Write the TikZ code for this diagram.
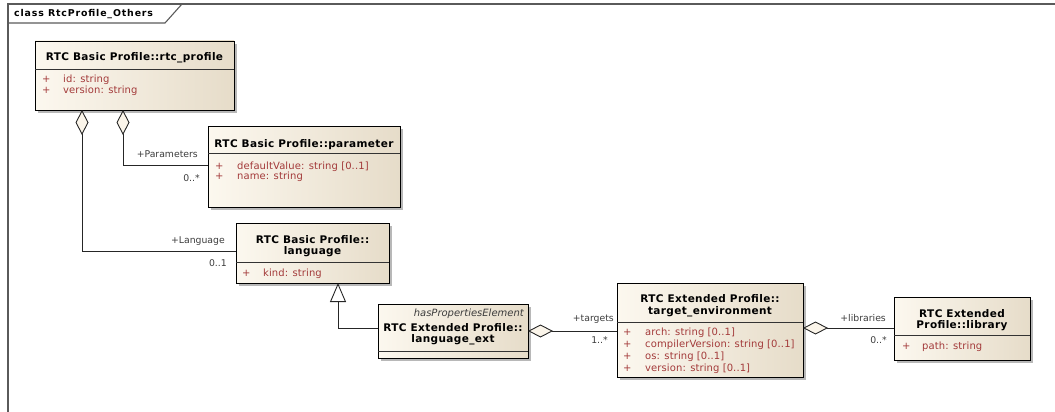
\documentclass[tikz,border=0pt]{standalone}
\usepackage{fontspec}
\setmainfont{DejaVu Sans}
\newfontfamily\headfont{DejaVu Sans}[LetterSpace=3.5]
\newfontfamily\titlefont{DejaVu Sans}[LetterSpace=9]
\newfontfamily\attrfont{DejaVu Sans}[LetterSpace=1]
\usetikzlibrary{arrows.meta,shadows,calc}
\definecolor{boxL}{HTML}{FCF8EF}
\definecolor{boxR}{HTML}{E6DCC9}
\definecolor{attrcol}{HTML}{A33A3A}
\definecolor{lblcol}{HTML}{3C3C3C}
\definecolor{framecol}{HTML}{5A5A5A}
\definecolor{diafill}{HTML}{FBF5EA}
\begin{document}
\begin{tikzpicture}[x=1pt,y=-1pt,
  umlbox/.style={draw=black, line width=0.9pt, left color=boxL, right color=boxR,
    drop shadow={shadow xshift=3pt, shadow yshift=-3pt, opacity=0.28, fill=black},
    anchor=north west, inner sep=0pt, outer sep=0pt},
  divider/.style={draw=black!80, line width=0.9pt},
  head/.style={font={\headfont\bfseries\fontsize{10.5}{11}\selectfont}, inner sep=0pt, anchor=base},
  attr/.style={font={\attrfont\fontsize{10}{11}\selectfont}, text=attrcol, inner sep=0pt, anchor=base west},
  lbl/.style={font={\fontsize{9.3}{11}\selectfont}, text=lblcol, inner sep=0pt, anchor=base east},
  stereo/.style={font={\fontsize{10}{11}\selectfont\itshape}, text=lblcol, inner sep=0pt, anchor=base east},
  conn/.style={draw=black!85, line width=0.9pt},
  agg/.style={conn, {Diamond[length=25pt, width=13pt, fill=diafill, line width=0.9pt]}-},
  gen/.style={conn, -{Triangle[open, length=19pt, width=16pt, line width=0.9pt]}},
]
\useasboundingbox (0,0) rectangle (1055,412);

% diagram frame with its name tab
\draw[framecol, line width=1.3pt] (8,412) -- (8,4) -- (1055,4);
\draw[framecol, line width=1.1pt] (8,23) -- (165,23) -- (182,4);
\node[font={\titlefont\bfseries\fontsize{9.4}{11}\selectfont}, inner sep=0pt, anchor=base west] (title) at (14,17) {class RtcProfile\_Others};

% rtc_profile
\node[umlbox, minimum width=199pt, minimum height=69pt] (rtc) at (35,41) {};
\draw[divider] ($(rtc.north west)+(0,28)$) -- ($(rtc.north east)+(0,28)$);
\node[head] (rtcH) at (134.5,61) {RTC Basic Profile::rtc\_profile};
\node[attr] (rtcP1) at (42,83) {+};
\node[attr] (rtcA1) at (63,83) {id: string};
\node[attr] (rtcP2) at (42,93) {+};
\node[attr] (rtcA2) at (63,93) {version: string};

% parameter
\node[umlbox, minimum width=192pt, minimum height=81pt] (param) at (208,126) {};
\draw[divider] ($(param.north west)+(0,27)$) -- ($(param.north east)+(0,27)$);
\node[head] (paramH) at (304,147) {RTC Basic Profile::parameter};
\node[attr] (paramP1) at (215,169) {+};
\node[attr] (paramA1) at (237,169) {defaultValue: string [0..1]};
\node[attr] (paramP2) at (215,179) {+};
\node[attr] (paramA2) at (237,179) {name: string};

% language
\node[umlbox, minimum width=153pt, minimum height=60pt] (lang) at (236,223) {};
\draw[divider] ($(lang.north west)+(0,39)$) -- ($(lang.north east)+(0,39)$);
\node[head] (langH1) at (312.5,243) {RTC Basic Profile::};
\node[head] (langH2) at (312.5,254) {language};
\node[attr] (langP1) at (242,276) {+};
\node[attr] (langA1) at (263,276) {kind: string};

% language_ext
\node[umlbox, minimum width=150pt, minimum height=54pt] (lext) at (378,304) {};
\draw[divider] ($(lext.north west)+(0,47)$) -- ($(lext.north east)+(0,47)$);
\node[stereo] (lextS) at (524,316) {hasPropertiesElement};
\node[head] (lextH1) at (453,331) {RTC Extended Profile::};
\node[head] (lextH2) at (453,342) {language\_ext};

% target_environment
\node[umlbox, minimum width=186pt, minimum height=94pt] (tenv) at (617,283) {};
\draw[divider] ($(tenv.north west)+(0,39)$) -- ($(tenv.north east)+(0,39)$);
\node[head] (tenvH1) at (710,302) {RTC Extended Profile::};
\node[head] (tenvH2) at (710,314) {target\_environment};
\node[attr] (tenvP1) at (623,335) {+};
\node[attr] (tenvA1) at (645,335) {arch: string [0..1]};
\node[attr] (tenvP2) at (623,347) {+};
\node[attr] (tenvA2) at (645,347) {compilerVersion: string [0..1]};
\node[attr] (tenvP3) at (623,359) {+};
\node[attr] (tenvA3) at (645,359) {os: string [0..1]};
\node[attr] (tenvP4) at (623,371) {+};
\node[attr] (tenvA4) at (645,371) {version: string [0..1]};

% library
\node[umlbox, minimum width=136pt, minimum height=63pt] (lib) at (894,297) {};
\draw[divider] ($(lib.north west)+(0,38)$) -- ($(lib.north east)+(0,38)$);
\node[head] (libH1) at (962,317) {RTC Extended};
\node[head] (libH2) at (962,328) {Profile::library};
\node[attr] (libP1) at (902,349) {+};
\node[attr] (libA1) at (922,349) {path: string};

% associations
\draw[agg] ($(rtc.south west)+(47,0)$) |- ($(lang.north west)+(0,28)$);
\node[lbl] (lLang) at (225,243) {+Language};
\node[lbl] (lLangM) at (227,266) {0..1};

\draw[agg] ($(rtc.south west)+(88,0)$) |- ($(param.north west)+(0,39)$);
\node[lbl] (lPar) at (198,157) {+Parameters};
\node[lbl] (lParM) at (200,181) {0..*};

\draw[gen] ($(lext.north west)+(0,24)$) -| ($(lang.south west)+(102,0)$);

\draw[agg] ($(lext.north east)+(0,27)$) -- ($(tenv.north west)+(0,48)$);
\node[lbl] (lTgt) at (614,321) {+targets};
\node[lbl] (lTgtM) at (608,343) {1..*};

\draw[agg] ($(tenv.north east)+(0,45)$) -- ($(lib.north west)+(0,31)$);
\node[lbl] (lLib) at (886,321) {+libraries};
\node[lbl] (lLibM) at (887,343) {0..*};
\end{tikzpicture}
\end{document}
